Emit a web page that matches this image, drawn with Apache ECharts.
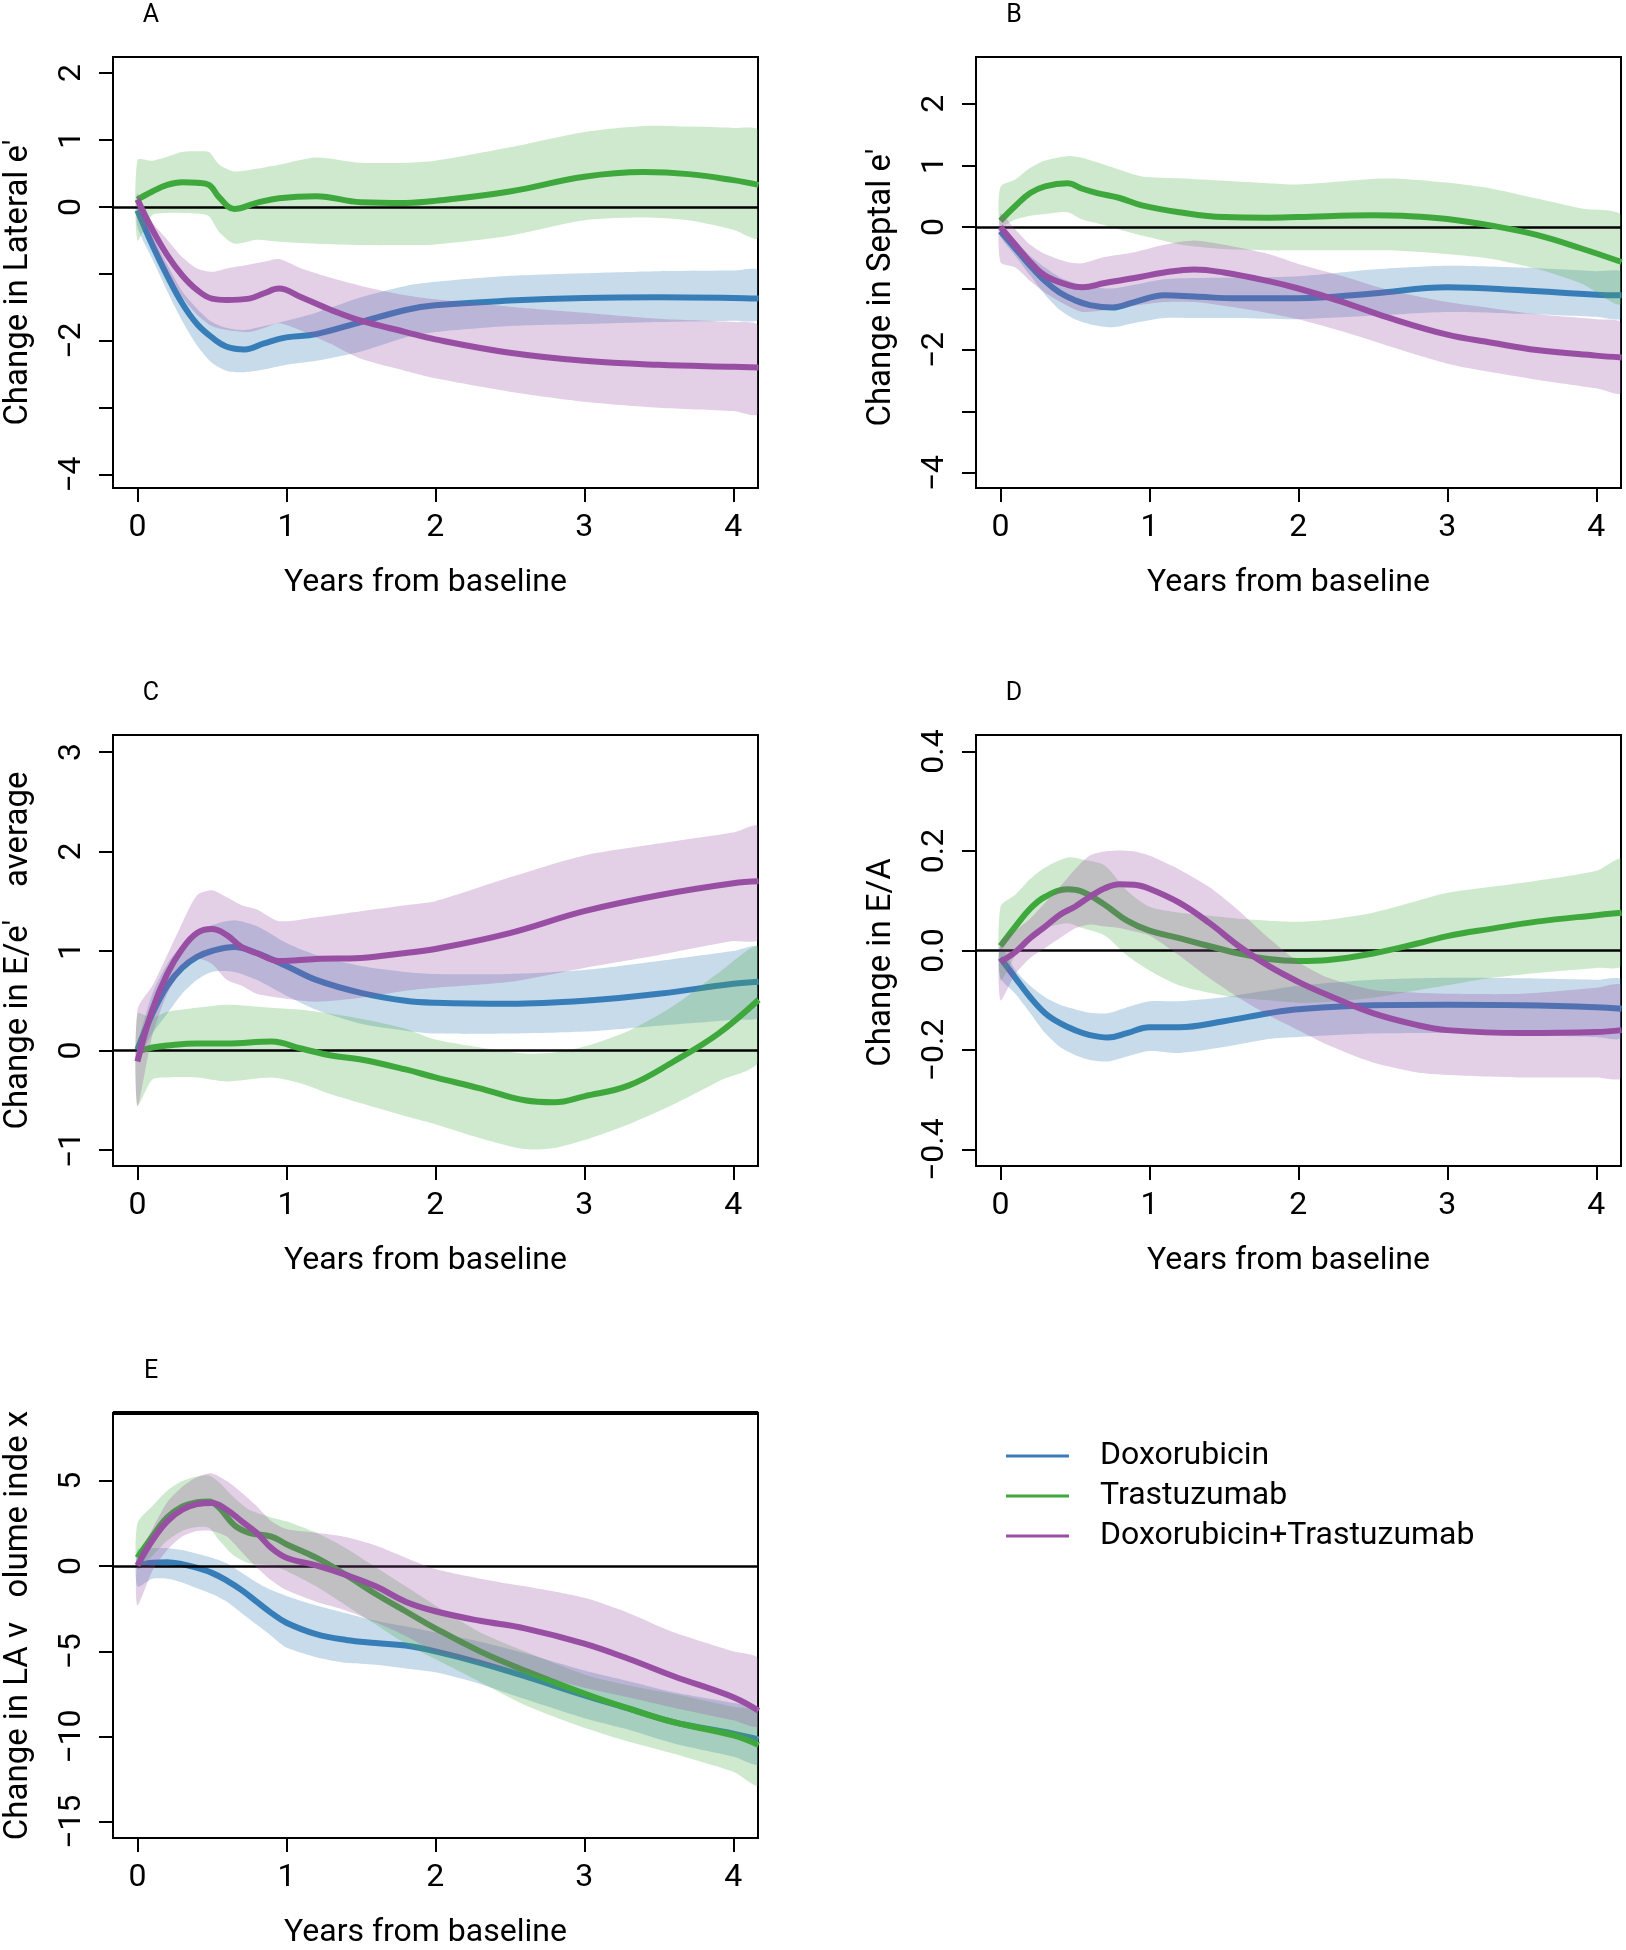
<!DOCTYPE html>
<html>
<head>
<meta charset="utf-8">
<script src="https://cdn.jsdelivr.net/npm/echarts@6.0.0/dist/echarts.min.js"></script>
<style>
html, body { margin: 0; padding: 0; background: #fff; }
#chart { width: 1626px; height: 1950px; }
</style>
</head>
<body>
<div id="chart"></div>
<script>
const groupNames = ['Doxorubicin', 'Trastuzumab', 'Doxorubicin+Trastuzumab'];
const xTicks = [0, 1, 2, 3, 4];

// A: lateral e'
const aDoxX = [0, 0.1, 0.2, 0.3, 0.4, 0.5, 0.6, 0.72, 0.85, 1.0, 1.2, 1.5, 1.8, 2.0, 2.5, 3.0, 3.5, 4.0, 4.17];
const aDoxMid = [-0.05, -0.57, -1.03, -1.44, -1.75, -1.95, -2.09, -2.13, -2.04, -1.95, -1.90, -1.72, -1.54, -1.47, -1.40, -1.36, -1.35, -1.36, -1.37];
const aDoxLo = [-0.3, -0.78, -1.26, -1.70, -2.07, -2.33, -2.45, -2.47, -2.43, -2.36, -2.30, -2.16, -1.95, -1.87, -1.78, -1.75, -1.72, -1.70, -1.68];
const aDoxHi = [0.0, -0.43, -0.86, -1.26, -1.52, -1.72, -1.81, -1.84, -1.78, -1.70, -1.58, -1.35, -1.18, -1.12, -1.03, -0.99, -0.96, -0.95, -0.95];
const aTraX = [0, 0.1, 0.2, 0.3, 0.4, 0.48, 0.55, 0.65, 0.8, 0.95, 1.2, 1.5, 1.8, 2.0, 2.5, 3.0, 3.4, 3.7, 4.0, 4.17];
const aTraMid = [0.11, 0.23, 0.33, 0.37, 0.36, 0.33, 0.14, -0.03, 0.06, 0.13, 0.16, 0.07, 0.06, 0.09, 0.23, 0.45, 0.52, 0.49, 0.40, 0.33];
const aTraLo = [-0.5, -0.12, -0.09, -0.09, -0.1, -0.14, -0.38, -0.55, -0.49, -0.52, -0.55, -0.57, -0.57, -0.56, -0.43, -0.2, -0.16, -0.2, -0.34, -0.46];
const aTraHi = [0.70, 0.69, 0.75, 0.82, 0.83, 0.82, 0.63, 0.53, 0.57, 0.63, 0.74, 0.66, 0.66, 0.69, 0.89, 1.12, 1.21, 1.20, 1.18, 1.14];
const aComX = [0, 0.1, 0.2, 0.3, 0.4, 0.5, 0.6, 0.75, 0.85, 0.95, 1.1, 1.3, 1.5, 1.8, 2.0, 2.5, 3.0, 3.5, 4.0, 4.17];
const aComMid = [0.11, -0.34, -0.72, -1.02, -1.24, -1.37, -1.39, -1.37, -1.29, -1.22, -1.35, -1.54, -1.70, -1.87, -1.98, -2.18, -2.30, -2.36, -2.39, -2.40];
const aComLo = [-0.1, -0.57, -1.01, -1.35, -1.61, -1.78, -1.84, -1.87, -1.81, -1.74, -1.85, -2.05, -2.27, -2.45, -2.56, -2.76, -2.91, -3.0, -3.05, -3.09];
const aComHi = [0.2, -0.23, -0.49, -0.75, -0.92, -0.97, -0.92, -0.86, -0.82, -0.78, -0.92, -1.06, -1.18, -1.32, -1.38, -1.49, -1.58, -1.67, -1.72, -1.78];

// B: septal e'
const bDoxX = [0, 0.1, 0.2, 0.3, 0.4, 0.5, 0.6, 0.75, 0.9, 1.1, 1.3, 1.6, 2.0, 2.5, 3.0, 3.5, 4.0, 4.17];
const bDoxMid = [-0.07, -0.35, -0.63, -0.88, -1.07, -1.19, -1.27, -1.31, -1.22, -1.11, -1.13, -1.16, -1.16, -1.08, -0.98, -1.03, -1.10, -1.11];
const bDoxLo = [-0.16, -0.47, -0.79, -1.10, -1.35, -1.50, -1.58, -1.63, -1.56, -1.48, -1.48, -1.48, -1.50, -1.44, -1.38, -1.41, -1.46, -1.48];
const bDoxHi = [0.02, -0.22, -0.47, -0.66, -0.82, -0.91, -0.97, -1.0, -0.94, -0.85, -0.83, -0.82, -0.80, -0.69, -0.63, -0.66, -0.72, -0.74];
const bTraX = [0, 0.1, 0.2, 0.3, 0.45, 0.55, 0.65, 0.8, 0.95, 1.2, 1.5, 1.8, 2.0, 2.5, 2.7, 3.0, 3.3, 3.6, 3.9, 4.17];
const bTraMid = [0.10, 0.34, 0.55, 0.66, 0.71, 0.62, 0.55, 0.47, 0.35, 0.24, 0.16, 0.15, 0.16, 0.19, 0.18, 0.13, 0.02, -0.13, -0.35, -0.57];
const bTraLo = [0.02, 0.12, 0.18, 0.21, 0.24, 0.12, 0.06, -0.04, -0.14, -0.28, -0.36, -0.38, -0.38, -0.38, -0.39, -0.44, -0.52, -0.68, -0.92, -1.25];
const bTraHi = [0.65, 0.77, 0.96, 1.08, 1.15, 1.12, 1.05, 0.93, 0.82, 0.79, 0.75, 0.71, 0.69, 0.78, 0.78, 0.72, 0.62, 0.46, 0.30, 0.18];
const bComX = [0, 0.1, 0.2, 0.3, 0.45, 0.55, 0.7, 0.9, 1.1, 1.3, 1.5, 1.8, 2.0, 2.3, 2.6, 3.0, 3.3, 3.6, 4.0, 4.17];
const bComMid = [0.0, -0.29, -0.57, -0.79, -0.94, -0.98, -0.91, -0.83, -0.74, -0.69, -0.74, -0.88, -1.0, -1.22, -1.47, -1.75, -1.88, -2.0, -2.09, -2.12];
const bComLo = [-0.57, -0.66, -0.88, -1.07, -1.28, -1.38, -1.35, -1.28, -1.22, -1.22, -1.28, -1.40, -1.50, -1.70, -1.93, -2.22, -2.36, -2.48, -2.62, -2.69];
const bComHi = [0.21, -0.04, -0.29, -0.44, -0.57, -0.59, -0.49, -0.41, -0.29, -0.22, -0.29, -0.44, -0.60, -0.80, -1.02, -1.22, -1.32, -1.42, -1.50, -1.56];

// C: E/e' average
const cDoxX = [0, 0.1, 0.2, 0.3, 0.4, 0.5, 0.65, 0.8, 1.0, 1.2, 1.5, 1.8, 2.0, 2.5, 3.0, 3.5, 4.0, 4.17];
const cDoxMid = [0.01, 0.37, 0.65, 0.83, 0.94, 1.0, 1.04, 0.98, 0.85, 0.71, 0.58, 0.50, 0.48, 0.47, 0.50, 0.57, 0.67, 0.69];
const cDoxLo = [-0.09, 0.17, 0.37, 0.57, 0.71, 0.79, 0.79, 0.71, 0.55, 0.41, 0.27, 0.20, 0.17, 0.17, 0.19, 0.25, 0.31, 0.34];
const cDoxHi = [0.05, 0.57, 0.87, 1.06, 1.18, 1.26, 1.31, 1.25, 1.08, 0.96, 0.85, 0.79, 0.77, 0.77, 0.81, 0.90, 1.0, 1.04];
const cTraX = [0, 0.1, 0.2, 0.4, 0.6, 0.9, 1.1, 1.3, 1.5, 1.8, 2.0, 2.3, 2.6, 2.8, 3.0, 3.3, 3.6, 3.9, 4.17];
const cTraMid = [-0.01, 0.03, 0.05, 0.07, 0.07, 0.09, 0.02, -0.05, -0.09, -0.19, -0.27, -0.38, -0.50, -0.52, -0.46, -0.35, -0.11, 0.17, 0.51];
const cTraLo = [-0.55, -0.29, -0.27, -0.27, -0.31, -0.27, -0.33, -0.44, -0.53, -0.66, -0.74, -0.88, -0.99, -0.98, -0.90, -0.74, -0.54, -0.31, -0.11];
const cTraHi = [0.37, 0.33, 0.39, 0.43, 0.46, 0.43, 0.41, 0.37, 0.32, 0.22, 0.11, 0.03, -0.03, -0.02, 0.04, 0.2, 0.45, 0.78, 1.04];
const cComX = [0, 0.1, 0.2, 0.3, 0.4, 0.5, 0.6, 0.7, 0.8, 0.95, 1.2, 1.5, 1.8, 2.0, 2.5, 3.0, 3.5, 4.0, 4.17];
const cComMid = [-0.11, 0.41, 0.77, 1.02, 1.18, 1.22, 1.16, 1.04, 0.98, 0.90, 0.92, 0.93, 0.98, 1.02, 1.18, 1.40, 1.56, 1.68, 1.70];
const cComLo = [-0.56, 0.15, 0.57, 0.81, 0.92, 0.87, 0.71, 0.65, 0.57, 0.53, 0.49, 0.53, 0.60, 0.63, 0.69, 0.83, 0.96, 1.10, 1.12];
const cComHi = [0.41, 0.65, 0.96, 1.28, 1.56, 1.61, 1.54, 1.46, 1.42, 1.30, 1.34, 1.40, 1.46, 1.50, 1.74, 1.96, 2.08, 2.19, 2.25];

// D: E/A
const dDoxX = [0, 0.1, 0.2, 0.3, 0.4, 0.5, 0.6, 0.72, 0.85, 1.0, 1.2, 1.5, 1.8, 2.0, 2.5, 3.0, 3.5, 4.0, 4.17];
const dDoxMid = [-0.015, -0.055, -0.094, -0.126, -0.146, -0.160, -0.170, -0.175, -0.166, -0.154, -0.154, -0.142, -0.126, -0.118, -0.110, -0.109, -0.110, -0.114, -0.117];
const dDoxLo = [-0.055, -0.087, -0.126, -0.166, -0.194, -0.210, -0.220, -0.223, -0.213, -0.202, -0.206, -0.194, -0.178, -0.174, -0.167, -0.166, -0.170, -0.174, -0.175];
const dDoxHi = [0.009, -0.039, -0.071, -0.094, -0.109, -0.118, -0.125, -0.126, -0.114, -0.102, -0.102, -0.094, -0.080, -0.071, -0.059, -0.055, -0.056, -0.059, -0.059];
const dTraX = [0, 0.1, 0.2, 0.3, 0.45, 0.55, 0.7, 0.85, 1.0, 1.2, 1.4, 1.6, 1.8, 2.0, 2.2, 2.5, 2.8, 3.0, 3.3, 3.6, 4.0, 4.17];
const dTraMid = [0.009, 0.048, 0.084, 0.108, 0.123, 0.118, 0.092, 0.060, 0.040, 0.025, 0.009, -0.006, -0.017, -0.021, -0.019, -0.006, 0.014, 0.029, 0.044, 0.058, 0.071, 0.076];
const dTraLo = [-0.06, -0.01, 0.03, 0.045, 0.055, 0.045, 0.03, -0.01, -0.04, -0.07, -0.085, -0.095, -0.10, -0.105, -0.103, -0.095, -0.08, -0.07, -0.055, -0.045, -0.035, -0.03];
const dTraHi = [0.088, 0.112, 0.144, 0.167, 0.187, 0.183, 0.171, 0.12, 0.088, 0.076, 0.070, 0.064, 0.060, 0.058, 0.062, 0.076, 0.100, 0.116, 0.128, 0.140, 0.160, 0.183];
const dComX = [0, 0.1, 0.2, 0.3, 0.4, 0.5, 0.6, 0.7, 0.8, 0.9, 1.0, 1.2, 1.4, 1.6, 1.8, 2.0, 2.2, 2.5, 2.8, 3.0, 3.5, 4.0, 4.17];
const dComMid = [-0.023, -0.003, 0.025, 0.048, 0.072, 0.088, 0.108, 0.125, 0.133, 0.132, 0.124, 0.096, 0.056, 0.009, -0.031, -0.063, -0.090, -0.126, -0.150, -0.160, -0.166, -0.164, -0.160];
const dComLo = [-0.10, -0.047, -0.015, 0.005, 0.025, 0.044, 0.052, 0.048, 0.045, 0.038, 0.03, -0.01, -0.055, -0.095, -0.13, -0.16, -0.19, -0.225, -0.245, -0.25, -0.255, -0.255, -0.255];
const dComHi = [0.017, 0.040, 0.064, 0.096, 0.128, 0.163, 0.191, 0.199, 0.201, 0.199, 0.191, 0.163, 0.128, 0.080, 0.025, -0.023, -0.055, -0.079, -0.085, -0.087, -0.087, -0.075, -0.071];

// E: LA volume index
const eDoxX = [0, 0.1, 0.2, 0.3, 0.4, 0.5, 0.6, 0.7, 0.8, 0.9, 1.0, 1.2, 1.4, 1.6, 1.8, 2.0, 2.3, 2.6, 3.0, 3.3, 3.6, 4.0, 4.17];
const eDoxMid = [0.04, 0.2, 0.22, 0.11, -0.11, -0.40, -0.85, -1.41, -2.09, -2.76, -3.32, -3.99, -4.33, -4.51, -4.66, -5.0, -5.67, -6.46, -7.58, -8.36, -9.15, -9.82, -10.16];
const eDoxLo = [-1.19, -0.74, -0.74, -0.96, -1.30, -1.64, -2.09, -2.76, -3.43, -4.1, -4.78, -5.34, -5.67, -5.79, -6.01, -6.23, -6.91, -7.8, -8.92, -9.6, -10.4, -11.17, -11.61];
const eDoxHi = [0.94, 1.05, 1.05, 0.94, 0.72, 0.49, 0.16, -0.40, -0.96, -1.41, -1.75, -2.31, -2.76, -3.21, -3.54, -3.88, -4.44, -5.11, -6.12, -6.75, -7.4, -8.03, -8.36];
const eTraX = [0, 0.1, 0.2, 0.3, 0.4, 0.48, 0.55, 0.65, 0.75, 0.9, 1.0, 1.2, 1.4, 1.6, 1.8, 2.0, 2.3, 2.6, 3.0, 3.3, 3.6, 4.0, 4.17];
const eTraMid = [0.49, 1.73, 2.85, 3.48, 3.74, 3.79, 3.41, 2.40, 1.95, 1.73, 1.28, 0.49, -0.52, -1.64, -2.65, -3.65, -5.0, -6.12, -7.47, -8.36, -9.15, -9.93, -10.49];
const eTraLo = [-0.18, 0.6, 1.5, 2.06, 2.29, 2.24, 1.5, 0.6, 0.16, 0.04, -0.29, -1.19, -2.31, -3.43, -4.55, -5.45, -6.79, -8.14, -9.48, -10.3, -11.0, -12.06, -12.85];
const eTraHi = [2.51, 3.52, 4.42, 4.98, 5.25, 5.31, 4.9, 4.0, 3.3, 2.85, 2.62, 1.95, 1.05, -0.07, -1.19, -2.31, -3.88, -5.0, -6.35, -7.0, -7.5, -8.25, -8.59];
const eComX = [0, 0.1, 0.2, 0.3, 0.4, 0.5, 0.6, 0.7, 0.8, 0.9, 1.0, 1.2, 1.4, 1.6, 1.8, 2.0, 2.3, 2.6, 3.0, 3.3, 3.6, 4.0, 4.17];
const eComMid = [0.04, 1.5, 2.62, 3.3, 3.63, 3.70, 3.3, 2.62, 1.95, 1.05, 0.49, 0.04, -0.52, -1.19, -2.09, -2.65, -3.21, -3.65, -4.55, -5.45, -6.46, -7.69, -8.48];
const eComLo = [-2.31, -0.29, 0.94, 1.73, 2.06, 2.06, 1.73, 0.83, -0.07, -0.85, -1.41, -2.09, -2.6, -3.3, -4.1, -5.0, -5.67, -6.23, -7.13, -7.7, -8.3, -9.04, -9.37];
const eComHi = [0.27, 2.17, 3.74, 4.64, 5.2, 5.43, 4.98, 4.30, 3.52, 2.62, 2.17, 1.95, 1.7, 1.2, 0.49, -0.18, -0.74, -1.19, -1.86, -2.76, -3.88, -5.0, -5.45];

// y axis ticks and labels per panel (R drops the labels that would collide)
const aYTicks = [-4, -3, -2, -1, 0, 1, 2];
const aYLabels = [-4, -2, 0, 1, 2];
const bYTicks = [-4, -3, -2, -1, 0, 1, 2];
const bYLabels = [-4, -2, 0, 1, 2];
const cYTicks = [-1, 0, 1, 2, 3];
const dYTicks = [-0.4, -0.2, 0, 0.2, 0.4];
const eYTicks = [-15, -10, -5, 0, 5];

const lineColors = ['#377EB8', '#3FA83C', '#984EA3'];
const bandColors = ['rgba(55,126,184,0.28)', 'rgba(77,175,74,0.27)', 'rgba(152,78,163,0.27)'];
const font = 'Roboto';

const panels = [
    { letter: 'A', yName: "Change in Lateral e'", yMin: -4.2, yMax: 2.24, ticks: aYTicks, labels: aYLabels, dec: 0,
      left: 113, top: 57, height: 431, namePad: [0, 20, 0, 0],
      groups: [[aDoxX, aDoxMid, aDoxLo, aDoxHi], [aTraX, aTraMid, aTraLo, aTraHi], [aComX, aComMid, aComLo, aComHi]] },
    { letter: 'B', yName: "Change in Septal e'", yMin: -4.24, yMax: 2.76, ticks: bYTicks, labels: bYLabels, dec: 0,
      left: 976, top: 57, height: 431, namePad: [0, 30, 0, 0],
      groups: [[bDoxX, bDoxMid, bDoxLo, bDoxHi], [bTraX, bTraMid, bTraLo, bTraHi], [bComX, bComMid, bComLo, bComHi]] },
    { letter: 'C', yName: "Change in E/e'    average", yMin: -1.16, yMax: 3.17, ticks: cYTicks, labels: cYTicks, dec: 0,
      left: 113, top: 735, height: 431, namePad: [0, 0, 0, 0],
      groups: [[cDoxX, cDoxMid, cDoxLo, cDoxHi], [cTraX, cTraMid, cTraLo, cTraHi], [cComX, cComMid, cComLo, cComHi]] },
    { letter: 'D', yName: 'Change in E/A', yMin: -0.433, yMax: 0.433, ticks: dYTicks, labels: dYTicks, dec: 1,
      left: 976, top: 735, height: 431, namePad: [0, 24, 0, 0],
      groups: [[dDoxX, dDoxMid, dDoxLo, dDoxHi], [dTraX, dTraMid, dTraLo, dTraHi], [dComX, dComMid, dComLo, dComHi]] },
    { letter: 'E', yName: 'Change in LA v   olume inde x', yMin: -15.94, yMax: 8.97, ticks: eYTicks, labels: eYTicks, dec: 0,
      left: 113, top: 1413, height: 435, namePad: [0, 0, 0, 0],
      groups: [[eDoxX, eDoxMid, eDoxLo, eDoxHi], [eTraX, eTraMid, eTraLo, eTraHi], [eComX, eComMid, eComLo, eComHi]] }
];

function fmt(v, dec) {
    let s = Math.abs(v).toFixed(dec);
    return (v < 0 ? '\u2212' : '') + s;
}

// confidence band: one polygon through the upper edge and back along the lower edge
function bandRenderer(color) {
    return function (params, api) {
        if (params.dataIndex !== 0) return;
        const n = params.dataInsideLength;
        const upper = [], lower = [];
        for (let i = 0; i < n; i++) {
            upper.push(api.coord([api.value(0, i), api.value(2, i)]));
            lower.push(api.coord([api.value(0, i), api.value(1, i)]));
        }
        return {
            type: 'polygon',
            shape: { points: upper.concat(lower.reverse()), smooth: 0.25 },
            style: { fill: color }
        };
    };
}

let chart = echarts.init(document.getElementById('chart'));

const grids = [], xAxes = [], yAxes = [], series = [], graphics = [];

panels.forEach((p, k) => {
    grids.push({ left: p.left, top: p.top, width: 645, height: p.height, show: true, borderColor: '#000', borderWidth: 2 });
    xAxes.push({
        type: 'value', gridIndex: k, min: -0.164, max: 4.166,
        name: 'Years from baseline', nameLocation: 'middle', nameGap: 79,
        nameTextStyle: { fontFamily: font, fontSize: 32, color: '#000', padding: [0, 20, 0, 0] },
        axisLine: { show: false, onZero: false },
        axisTick: { show: true, length: 14, customValues: xTicks, lineStyle: { color: '#000', width: 2 } },
        axisLabel: { customValues: xTicks, margin: 24, fontFamily: font, fontSize: 32, color: '#000' },
        splitLine: { show: false }
    });
    yAxes.push({
        type: 'value', gridIndex: k, min: p.yMin, max: p.yMax,
        name: p.yName, nameLocation: 'middle', nameGap: 78,
        nameTextStyle: { fontFamily: font, fontSize: 33, color: '#000', padding: p.namePad },
        axisLine: { show: false, onZero: false },
        axisTick: { show: true, length: 14, customValues: p.ticks, lineStyle: { color: '#000', width: 2 } },
        axisLabel: { customValues: p.labels, rotate: 90, margin: 25, fontFamily: font, fontSize: 32, color: '#000',
            formatter: v => fmt(v, p.dec) },
        splitLine: { show: false }
    });
    p.groups.forEach((g, gi) => {
        const [xs, mid, lo, hi] = g;
        series.push({
            name: groupNames[gi] + ' band', type: 'custom', xAxisIndex: k, yAxisIndex: k,
            data: xs.map((x, i) => [x, lo[i], hi[i]]),
            encode: { x: 0, y: [1, 2] },
            renderItem: bandRenderer(bandColors[gi]),
            clip: true, silent: true, z: 2 + gi * 2
        });
        series.push({
            name: groupNames[gi], type: 'line', xAxisIndex: k, yAxisIndex: k,
            data: xs.map((x, i) => [x, mid[i]]),
            symbol: 'none', smooth: 0.4,
            lineStyle: { color: lineColors[gi], width: 6 }, itemStyle: { color: lineColors[gi] },
            silent: true, z: 3 + gi * 2
        });
    });
    // zero reference line
    series.push({
        type: 'line', xAxisIndex: k, yAxisIndex: k, data: [], z: 20, silent: true,
        markLine: { silent: true, symbol: 'none', label: { show: false }, animation: false,
            lineStyle: { color: '#000', width: 2.5, type: 'solid' }, data: [{ yAxis: 0 }] }
    });
    graphics.push({
        type: 'text', x: p.left + 38, y: p.top - 41,
        style: { text: p.letter, fontSize: 25, fontFamily: font, fill: '#000', align: 'center', verticalAlign: 'middle' }
    });
});

// panel E has a heavier top frame in the original
graphics.push({
    type: 'line', z: 100,
    shape: { x1: panels[4].left, y1: panels[4].top, x2: panels[4].left + 645, y2: panels[4].top },
    style: { stroke: '#000', lineWidth: 4 }
});

const option = {
    animation: false,
    backgroundColor: '#fff',
    grid: grids,
    xAxis: xAxes,
    yAxis: yAxes,
    series: series,
    graphic: graphics,
    legend: {
        data: groupNames, orient: 'vertical', left: 1006, top: 1440, padding: 0,
        icon: 'rect', itemWidth: 63, itemHeight: 3, itemGap: 8, selectedMode: false,
        textStyle: { fontFamily: font, fontSize: 32, color: '#000', lineHeight: 30, padding: [0, 0, 0, 26] }
    }
};

chart.setOption(option);
</script>
</body>
</html>
